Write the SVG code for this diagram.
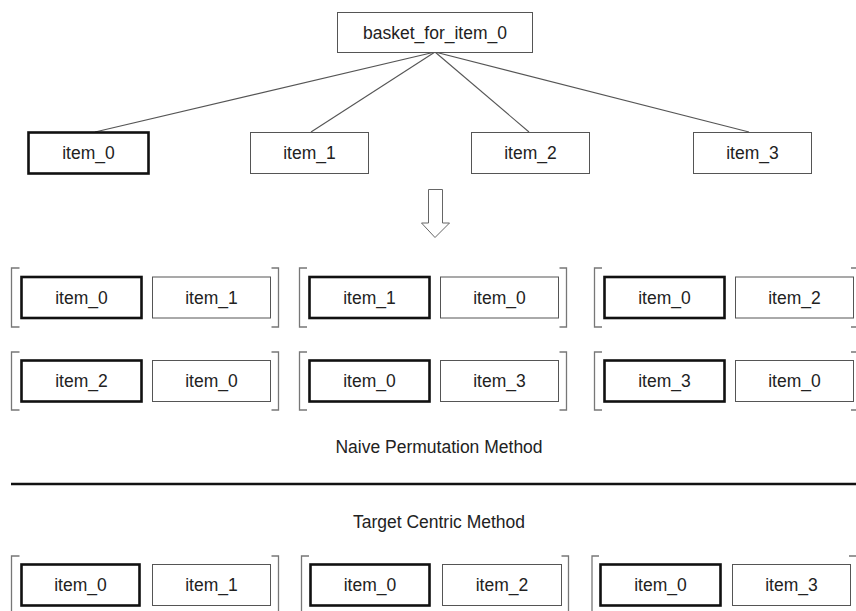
<svg xmlns="http://www.w3.org/2000/svg" width="856" height="611" viewBox="0 0 856 611">
<style>
text{font-family:"Liberation Sans",Arial,sans-serif;font-size:17.5px;fill:#222;text-anchor:middle;dominant-baseline:central}
.thin{fill:#fff;stroke:#555;stroke-width:1}
.thick{fill:#fff;stroke:#111;stroke-width:2.6}
.br{fill:none;stroke:#777;stroke-width:1.3}
.conn{stroke:#555;stroke-width:1.1;fill:none}
</style>
<rect width="856" height="611" fill="#fff"/>
<g id="connectors">
<line class="conn" x1="435" y1="52" x2="95" y2="132"/>
<line class="conn" x1="435" y1="52" x2="311" y2="132"/>
<line class="conn" x1="435" y1="52" x2="529" y2="132"/>
<line class="conn" x1="435" y1="52" x2="749" y2="132"/>
</g>
<g id="basket"><rect class="thin" x="337.5" y="12.5" width="195" height="40"/><text x="435" y="32.5">basket_for_item_0</text></g>
<g id="top_item_0"><rect class="thick" x="28.5" y="132.5" width="120" height="41"/><text x="88.5" y="153">item_0</text></g>
<g id="top_item_1"><rect class="thin" x="250.5" y="132.5" width="118" height="41"/><text x="309.5" y="153">item_1</text></g>
<g id="top_item_2"><rect class="thin" x="471.5" y="132.5" width="118" height="41"/><text x="530.5" y="153">item_2</text></g>
<g id="top_item_3"><rect class="thin" x="693.5" y="132.5" width="118" height="41"/><text x="752.5" y="153">item_3</text></g>
<g id="arrow"><path d="M428.5 189.5 H442.5 V223 H449.5 L435 237.5 L421.5 223 H428.5 Z" fill="#fff" stroke="#666" stroke-width="1"/></g>

<g id="naive_row_a">
<g id="na1"><path class="br" d="M19.5 268 H11.5 V327 H19.5 M271.5 268 H278.5 V327 H271.5"/>
<rect class="thick" x="21.5" y="277" width="120" height="41"/><text x="81.5" y="297.5">item_0</text>
<rect class="thin" x="152.5" y="277" width="118" height="41"/><text x="211.5" y="297.5">item_1</text></g>
<g id="na2"><path class="br" d="M307 268 H299.5 V327 H307 M559.5 268 H566.5 V327 H559.5"/>
<rect class="thick" x="309.5" y="277" width="120" height="41"/><text x="369.5" y="297.5">item_1</text>
<rect class="thin" x="440.5" y="277" width="118" height="41"/><text x="499.5" y="297.5">item_0</text></g>
<g id="na3"><path class="br" d="M602 268 H594.5 V327 H602 M851 268 H857 V327 H851"/>
<rect class="thick" x="604.5" y="277" width="120" height="41"/><text x="664.5" y="297.5">item_0</text>
<rect class="thin" x="735.5" y="277" width="118" height="41"/><text x="794.5" y="297.5">item_2</text></g>
</g>
<g id="naive_row_b">
<g id="nb1"><path class="br" d="M19.5 352 H11.5 V410 H19.5 M271.5 352 H278.5 V410 H271.5"/>
<rect class="thick" x="21.5" y="360.5" width="120" height="41"/><text x="81.5" y="381">item_2</text>
<rect class="thin" x="152.5" y="360.5" width="118" height="41"/><text x="211.5" y="381">item_0</text></g>
<g id="nb2"><path class="br" d="M307 352 H299.5 V410 H307 M559.5 352 H566.5 V410 H559.5"/>
<rect class="thick" x="309.5" y="360.5" width="120" height="41"/><text x="369.5" y="381">item_0</text>
<rect class="thin" x="440.5" y="360.5" width="118" height="41"/><text x="499.5" y="381">item_3</text></g>
<g id="nb3"><path class="br" d="M602 352 H594.5 V410 H602 M851 352 H857 V410 H851"/>
<rect class="thick" x="604.5" y="360.5" width="120" height="41"/><text x="664.5" y="381">item_3</text>
<rect class="thin" x="735.5" y="360.5" width="118" height="41"/><text x="794.5" y="381">item_0</text></g>
</g>
<g id="label_naive"><text x="439" y="447">Naive Permutation Method</text></g>
<g id="separator"><line x1="11" y1="484" x2="856" y2="484" stroke="#111" stroke-width="2.6"/></g>
<g id="label_target"><text x="439" y="522">Target Centric Method</text></g>
<g id="target_row">
<g id="tc1"><path class="br" d="M19.5 556 H11.5 V615 M271.5 556 H278.5 V615"/>
<rect class="thick" x="21.5" y="564.5" width="118" height="41"/><text x="80.5" y="585">item_0</text>
<rect class="thin" x="152.5" y="564.5" width="118" height="41"/><text x="211.5" y="585">item_1</text></g>
<g id="tc2"><path class="br" d="M309 556 H301.5 V615 M561.5 556 H568.5 V615"/>
<rect class="thick" x="310.5" y="564.5" width="119" height="41"/><text x="370" y="585">item_0</text>
<rect class="thin" x="442.5" y="564.5" width="119" height="41"/><text x="502" y="585">item_2</text></g>
<g id="tc3"><path class="br" d="M599 556 H592 V615 M849 556 H856"/>
<rect class="thick" x="600.5" y="564.5" width="120" height="41"/><text x="660.5" y="585">item_0</text>
<rect class="thin" x="732.5" y="564.5" width="118" height="41"/><text x="791.5" y="585">item_3</text></g>
</g>
</svg>
